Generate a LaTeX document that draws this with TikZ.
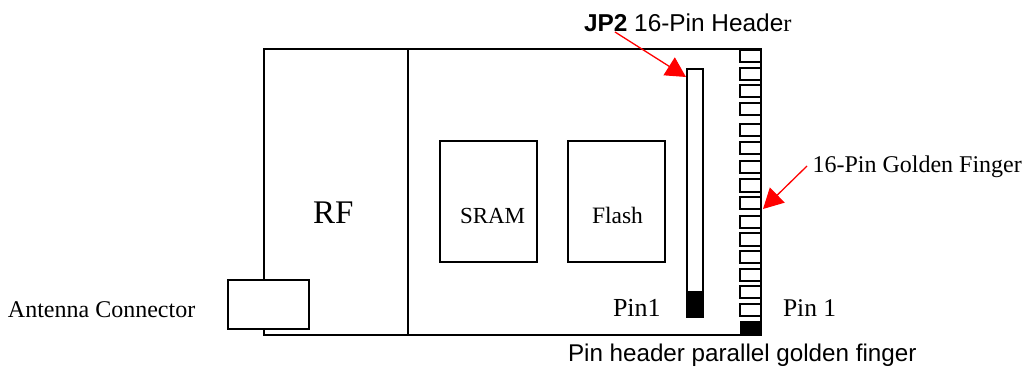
\documentclass[tikz,border=0pt]{standalone}
\usepackage{fontspec}
\setmainfont{Liberation Serif}
\setsansfont{Liberation Sans}
\usetikzlibrary{arrows.meta}
\tikzset{
  box/.style={draw=black,line width=1.2pt,fill=white,inner sep=0pt,outer sep=0pt,minimum width=#1},
  finger/.style={draw=black,line width=1.3pt,fill=white,inner sep=0pt,outer sep=0pt,minimum width=21pt,anchor=north west},
  solid block/.style={fill=black,inner sep=0pt,outer sep=0pt,anchor=north west},
  lbl/.style={inner sep=0pt,outer sep=0pt,anchor=base west,font=\fontsize{#1}{#1}\selectfont},
  slbl/.style={inner sep=0pt,outer sep=0pt,anchor=base west,font=\sffamily\fontsize{#1}{#1}\selectfont},
  redarrow/.style={draw=red,line width=1.3pt,-{Triangle[length=20pt,width=21pt,fill=red]}},
}
\begin{document}
\begin{tikzpicture}[x=1pt,y=-1pt]
\useasboundingbox (0,0) rectangle (1023,367);
% main board
\node[box=497pt,minimum height=286pt,anchor=north west] (board) at (264,49) {};
\draw[line width=1.2pt] (408,49) coordinate (dt) -- (408,335) coordinate (db);
% chips
\node[box=97pt,minimum height=121pt,anchor=north west] (sram) at (440,141) {};
\node[box=97pt,minimum height=121pt,anchor=north west] (flash) at (568,141) {};
\node[lbl=23] (sramt) at (460,223) {SRAM};
\node[lbl=23.5] (flasht) at (592,223) {Flash};
\node[lbl=33] (rf) at (313,223) {RF};
% antenna
\node[box=81pt,minimum height=49pt,anchor=north west] (ant) at (228,280) {};
\node[lbl=24] (antt) at (8,317) {Antenna Connector};
% header
\node[box=16pt,minimum height=248pt,anchor=north west] (hdr) at (687,69) {};
\node[solid block,minimum width=17pt,minimum height=26pt] (hdr1) at (686.5,291) {};
% fingers
\foreach \n/\yt/\yb in {1/50/62,2/68/80,3/85/97,4/103/115,5/124/136,6/142/154,7/161/173,8/179/192,9/197/209,10/216/228,11/233/246,12/251/263,13/269/281,14/286/298,15/304/316}{
  \pgfmathsetmacro{\hh}{\yb-\yt}
  \node[finger,minimum height=\hh pt] (f\n) at (740,\yt) {};
}
\node[solid block,minimum width=22pt,minimum height=15pt] (f16) at (739.5,321) {};
\draw[line width=1.3pt] (761,49) coordinate (ra) -- (761,335) coordinate (rb);
% labels
\node[slbl=24.4] (jp) at (584,31) {\textbf{JP2} 16-Pin Heade{\rmfamily r}};
\node[lbl=24] (gf) at (812.5,172) {16-Pin Golden Finger};
\node[lbl=26] (p1a) at (613,316) {Pin1};
\node[lbl=25.5] (p1b) at (783,316) {Pin 1};
\node[slbl=24.2] (par) at (568,361.8) {Pin header parallel golden finger};
% arrows
\coordinate (a1s) at (615,32);
\coordinate (a1t) at (686,77);
\coordinate (a2s) at (807,166);
\coordinate (a2t) at (763,209);
\draw[redarrow] (a1s) -- (a1t);
\draw[redarrow] (a2s) -- (a2t);
\end{tikzpicture}
\end{document}
